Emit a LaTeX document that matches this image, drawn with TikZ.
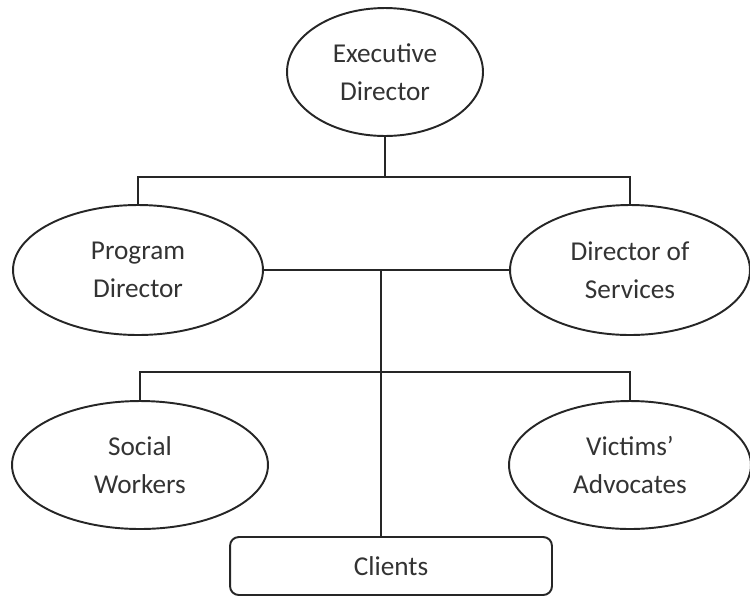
\documentclass[tikz,border=0pt]{standalone}
\usepackage{fontspec}
\setmainfont{Carlito}
\usepackage{tikz}
\usetikzlibrary{positioning, shapes.geometric}

\begin{document}
\begin{tikzpicture}[x=0.02cm, y=-0.02cm,
  role/.style={ellipse, draw=black!85, line width=1.1pt, inner sep=0pt,
    align=center, text=black!80, font=\fontsize{15.5}{21.5}\selectfont},
  link/.style={draw=black!85, line width=1.1pt}]
\useasboundingbox (0,0) rectangle (750,596);

% top level
\node[role, minimum width=3.92cm, minimum height=2.56cm] (exec) at (385,72) {Executive\\Director};

% second level
\node[role, minimum width=5cm, minimum height=2.6cm] (progdir) at (138,270) {Program\\Director};
\node[role, minimum width=4.8cm, minimum height=2.6cm] (servdir) at (630,270) {Director of\\Services};

% staff
\node[role, minimum width=5.12cm, minimum height=2.56cm] (social) at (140,465) {Social\\Workers};
\node[role, minimum width=4.84cm, minimum height=2.56cm] (victims) at (630,465) {Victims'\\Advocates};

% clients box
\node[draw=black!85, line width=1.1pt, rounded corners=5pt, text=black!80,
  font=\fontsize{15.5}{21.5}\selectfont, minimum width=6.44cm, minimum height=1.16cm]
  (clients) at (391,566) {Clients};

% joints
\coordinate (topbar) at (382,177);
\coordinate (midjoint) at (381,270);
\coordinate (lowbar) at (381,372);

% connectors
\draw[link] (exec.south) -- (exec.south |- topbar);
\draw[link] (progdir.north) |- (topbar) -| (servdir.north);
\draw[link] (progdir.east) -- (servdir.west);
\draw[link] (midjoint) -- (midjoint |- clients.north);
\draw[link] (social.north) |- (lowbar) -| (victims.north);

\end{tikzpicture}
\end{document}
